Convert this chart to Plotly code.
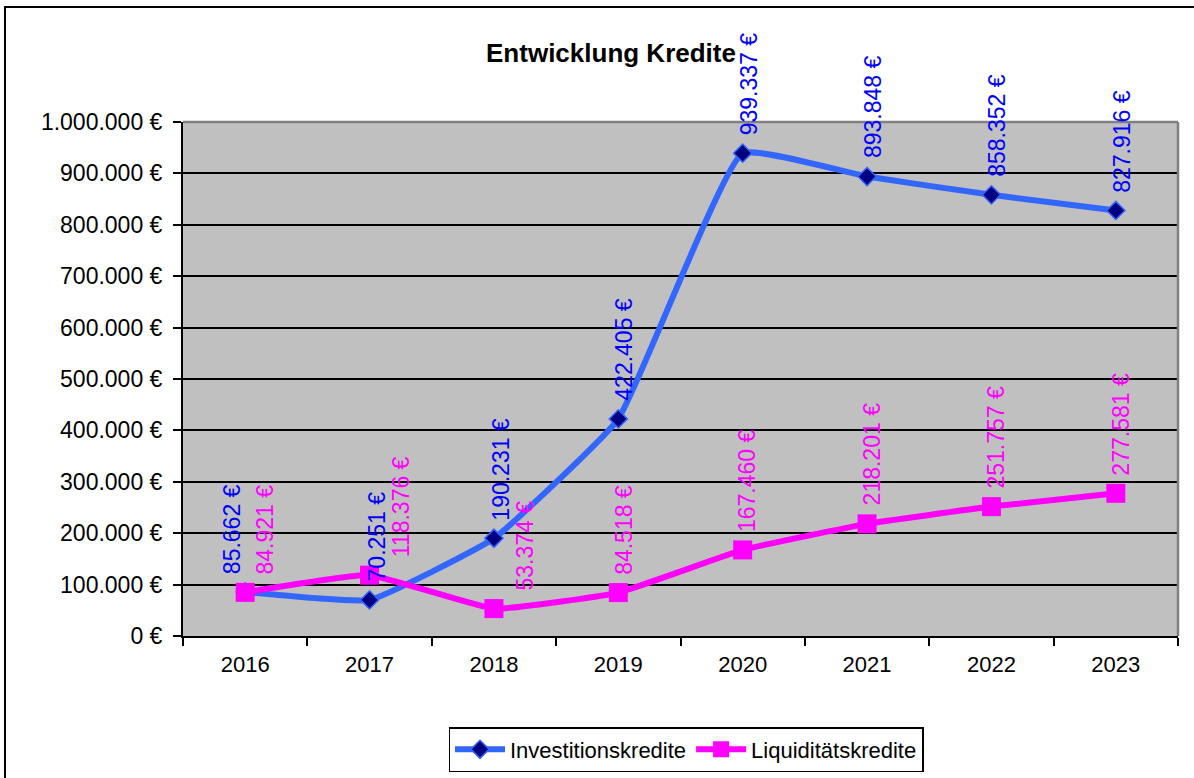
import plotly.graph_objects as go

# ---------------- data ----------------
years = ["2016", "2017", "2018", "2019", "2020", "2021", "2022", "2023"]
invest = [85662, 70251, 190231, 422405, 939337, 893848, 858352, 827916]
liquid = [84921, 118376, 53374, 84518, 167460, 218201, 251757, 277581]
y_ticks = [0, 100000, 200000, 300000, 400000, 500000, 600000, 700000, 800000, 900000, 1000000]
title_text = "Entwicklung Kredite"
name_invest = "Investitionskredite"
name_liquid = "Liquiditätskredite"


def eur(v):
    return f"{v:,.0f}".replace(",", ".") + " €"


# ---------------- layout constants ----------------
W, H = 1194, 778
ML, MR, MT, MB = 183, 16, 122, 142
PW, PH = W - ML - MR, H - MT - MB
YMAX = 1000000

FONT = "Liberation Sans, Arial, sans-serif"
BLUE_LINE = "#3366FF"
BLUE_MARK = "#000080"
BLUE_TXT = "#0000FF"
MAG = "#FF00FF"

fig = go.Figure()
fig.add_trace(go.Scatter(
    x=years, y=invest, name=name_invest, mode="lines+markers",
    line=dict(color=BLUE_LINE, width=6, shape="spline", smoothing=0.35),
    marker=dict(symbol="diamond", size=14, color=BLUE_MARK,
                line=dict(color=BLUE_LINE, width=1.5)),
))
fig.add_trace(go.Scatter(
    x=years, y=liquid, name=name_liquid, mode="lines+markers",
    line=dict(color=MAG, width=6, shape="spline", smoothing=0.35),
    marker=dict(symbol="square", size=19, color=MAG, line=dict(width=0)),
))

# ---------------- data labels (rotated, above points) ----------------
val_per_px = YMAX / PH
gap_px, len_px = 18, 100


def spans(v):
    lo = v + gap_px * val_per_px
    return lo, lo + len_px * val_per_px


annotations = []
for i, yr in enumerate(years):
    b, m = invest[i], liquid[i]
    b0, b1 = spans(b)
    m0, m1 = spans(m)
    collide = not (b1 < m0 or m1 < b0)
    if collide and abs(b - m) < 15 * val_per_px:
        dx_b, dx_m = -13, 20
    elif collide:
        dx_b, dx_m = 7, 31
    else:
        dx_b, dx_m = 6, 5
    for val, col, dx in ((b, BLUE_TXT, dx_b), (m, MAG, dx_m)):
        annotations.append(dict(
            x=i, y=val, xref="x", yref="y", text=eur(val), showarrow=False,
            textangle=-90, xanchor="center", yanchor="bottom",
            xshift=dx, yshift=gap_px - 2,
            font=dict(family=FONT, size=23, color=col),
        ))

fig.update_layout(
    width=W, height=H,
    margin=dict(l=ML, r=MR, t=MT, b=MB, pad=0, autoexpand=False),
    paper_bgcolor="white",
    plot_bgcolor="#C0C0C0",
    font=dict(family=FONT, size=22, color="black"),
    title=dict(text=title_text, x=611 / W, xanchor="center",
               y=1 - 53 / H, yanchor="middle", yref="container",
               font=dict(family=FONT, size=26, color="black", weight="bold")),
    showlegend=True,
    legend=dict(orientation="h", x=(686 - ML) / PW, xanchor="center",
                y=-(727 - (H - MB)) / PH, yanchor="top",
                bordercolor="black", borderwidth=1.5, bgcolor="white",
                font=dict(family=FONT, size=22, color="black"),
                itemwidth=50, tracegroupgap=0),
    annotations=annotations,
)

fig.update_xaxes(
    type="category", showgrid=False, showline=True, linecolor="black", linewidth=2,
    ticks="outside", tickson="boundaries", ticklen=8, tickwidth=2, tickcolor="black",
    tickfont=dict(family=FONT, size=22, color="black"), ticklabelstandoff=8,
    range=[-0.5, len(years) - 0.5], zeroline=False, fixedrange=True,
)
fig.update_yaxes(
    range=[0, YMAX], tickvals=y_ticks, ticktext=[eur(v) for v in y_ticks],
    showgrid=True, gridcolor="black", gridwidth=2,
    showline=True, linecolor="black", linewidth=2,
    ticks="outside", ticklen=8, tickwidth=2, tickcolor="black",
    tickfont=dict(family=FONT, size=23, color="black"), ticklabelstandoff=6,
    zeroline=False, fixedrange=True,
)

# plot-area top/right gray border and outer chart frame
fig.add_shape(type="line", xref="paper", yref="paper", x0=0, x1=1, y0=1, y1=1,
              line=dict(color="#808080", width=2.5), layer="above")
fig.add_shape(type="line", xref="paper", yref="paper", x0=1, x1=1, y0=0, y1=1,
              line=dict(color="#808080", width=2.5), layer="above")
fig.add_shape(type="rect", xref="paper", yref="paper",
              x0=(5 - ML) / PW, x1=(W + 20 - ML) / PW,
              y0=(H - MB - (H + 20)) / PH, y1=(H - MB - 7) / PH,
              line=dict(color="black", width=2), fillcolor="rgba(0,0,0,0)", layer="above")

fig.write_html("out.html", config={"displayModeBar": False},
               post_script="document.body.style.margin='0';")
